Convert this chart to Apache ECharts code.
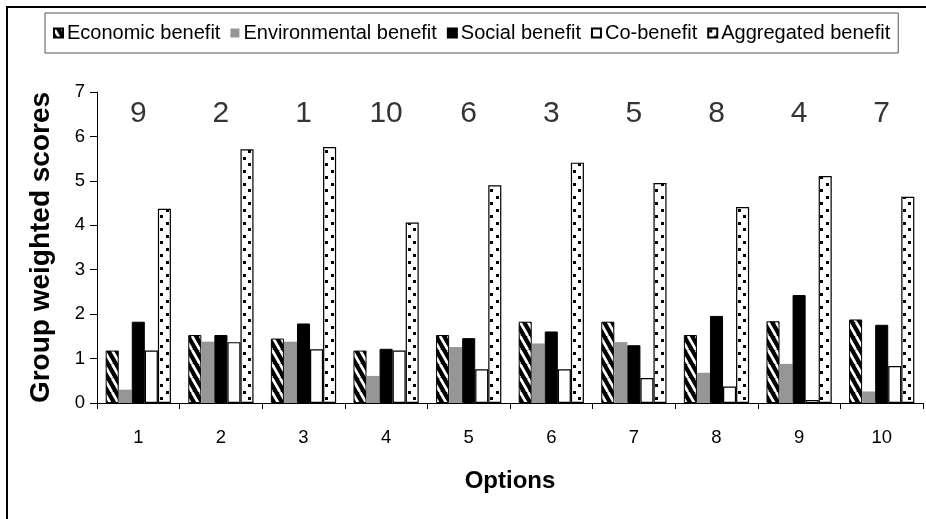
<!DOCTYPE html>
<html>
<head>
<meta charset="utf-8">
<script src="https://cdn.jsdelivr.net/npm/echarts@6/dist/echarts.min.js"></script>
<style>
  html, body { margin: 0; padding: 0; background: #fff; }
  #chart { width: 926px; height: 519px; }
</style>
</head>
<body>
<div id="chart"></div>
<script>
// Options and their group weighted scores
var options = ['1', '2', '3', '4', '5', '6', '7', '8', '9', '10'];
var economic = [1.18, 1.53, 1.45, 1.18, 1.53, 1.83, 1.83, 1.53, 1.84, 1.88];
var environmental = [0.30, 1.38, 1.38, 0.61, 1.26, 1.34, 1.37, 0.68, 0.88, 0.26];
var social = [1.83, 1.53, 1.79, 1.22, 1.46, 1.61, 1.30, 1.96, 2.43, 1.76];
var coBenefit = [1.18, 1.37, 1.21, 1.18, 0.76, 0.76, 0.56, 0.37, 0.07, 0.83];
var aggregated = [4.37, 5.71, 5.76, 4.06, 4.90, 5.41, 4.95, 4.41, 5.11, 4.64];
// Rank of each option by aggregated benefit
var ranks = [9, 2, 1, 10, 6, 3, 5, 8, 4, 7];
var rankLevel = 6.5;
var seriesNames = ['Economic benefit', 'Environmental benefit', 'Social benefit', 'Co-benefit', 'Aggregated benefit'];

// Fill patterns
function stripePattern() {
  var w = 8, h = 14;
  var c = document.createElement('canvas');
  c.width = w; c.height = h;
  var g = c.getContext('2d');
  g.fillStyle = '#000';
  g.fillRect(0, 0, w, h);
  g.strokeStyle = '#fff';
  g.lineWidth = 2.8;
  for (var k = -1; k <= 1; k++) {
    g.beginPath();
    g.moveTo(k * w, 0);
    g.lineTo(k * w + w, h);
    g.stroke();
  }
  return c;
}
function dotPattern() {
  var w = 11, h = 13;
  var c = document.createElement('canvas');
  c.width = w; c.height = h;
  var g = c.getContext('2d');
  g.fillStyle = '#fff';
  g.fillRect(0, 0, w, h);
  g.fillStyle = '#000';
  g.fillRect(1, 1, 3, 3);
  g.fillRect(6, 7, 3, 3);
  return c;
}

var FONT = 'Liberation Sans, Arial, sans-serif';
var chart = echarts.init(document.getElementById('chart'), null, { renderer: 'canvas' });

function barSeries(name, data, style) {
  return {
    name: name,
    type: 'bar',
    data: data,
    barGap: '0%',
    barCategoryGap: '21%',
    itemStyle: style,
    emphasis: { disabled: true }
  };
}

chart.setOption({
  animation: false,
  backgroundColor: '#fff',
  textStyle: { fontFamily: FONT },
  graphic: [{
    type: 'rect',
    shape: { x: 7, y: 7, width: 1000, height: 600 },
    style: { fill: 'none', stroke: '#000', lineWidth: 2 },
    silent: true,
    z: -1
  }],
  legend: {
    data: seriesNames,
    left: 45,
    top: 13,
    padding: [10, 8, 10, 8],
    borderColor: '#555',
    borderWidth: 1,
    itemWidth: 9,
    itemHeight: 9,
    itemGap: 10,
    icon: 'rect',
    textStyle: { fontFamily: FONT, fontSize: 20, color: '#000', padding: [0, 0, 0, -1] },
    selectedMode: false
  },
  grid: { left: 97, right: 3, top: 92, bottom: 116, containLabel: false },
  xAxis: {
    type: 'category',
    data: options,
    name: 'Options',
    nameLocation: 'middle',
    nameGap: 66,
    nameTextStyle: { fontFamily: FONT, fontSize: 24, fontWeight: 'bold', color: '#000' },
    axisLine: { lineStyle: { color: '#000', width: 1 } },
    axisTick: { show: true, length: 6, alignWithLabel: false, lineStyle: { color: '#000' } },
    axisLabel: { fontFamily: FONT, fontSize: 18.5, color: '#000', margin: 25 },
    splitLine: { show: false }
  },
  yAxis: {
    type: 'value',
    min: 0,
    max: 7,
    interval: 1,
    name: 'Group weighted scores',
    nameLocation: 'middle',
    nameGap: 42,
    nameTextStyle: { fontFamily: FONT, fontSize: 28, fontWeight: 'bold', color: '#000' },
    axisLine: { show: true, lineStyle: { color: '#000', width: 1 } },
    axisTick: { show: true, length: 7, lineStyle: { color: '#000' } },
    axisLabel: { fontFamily: FONT, fontSize: 18.5, color: '#000', margin: 12 },
    splitLine: { show: false }
  },
  series: [
    barSeries(seriesNames[0], economic, { color: { image: stripePattern(), repeat: 'repeat' }, borderColor: '#000', borderWidth: 1 }),
    barSeries(seriesNames[1], environmental, { color: '#969696', borderColor: '#969696', borderWidth: 0 }),
    barSeries(seriesNames[2], social, { color: '#000', borderColor: '#000', borderWidth: 1 }),
    barSeries(seriesNames[3], coBenefit, { color: '#fff', borderColor: '#000', borderWidth: 1.2 }),
    barSeries(seriesNames[4], aggregated, { color: { image: dotPattern(), repeat: 'repeat' }, borderColor: '#000', borderWidth: 1.2 }),
    {
      name: 'rank',
      type: 'scatter',
      data: ranks.map(function () { return rankLevel; }),
      symbolSize: 0,
      silent: true,
      label: {
        show: true,
        position: 'inside',
        formatter: function (p) { return String(ranks[p.dataIndex]); },
        fontFamily: FONT,
        fontSize: 30,
        color: '#000'
      }
    }
  ]
});
</script>
</body>
</html>
